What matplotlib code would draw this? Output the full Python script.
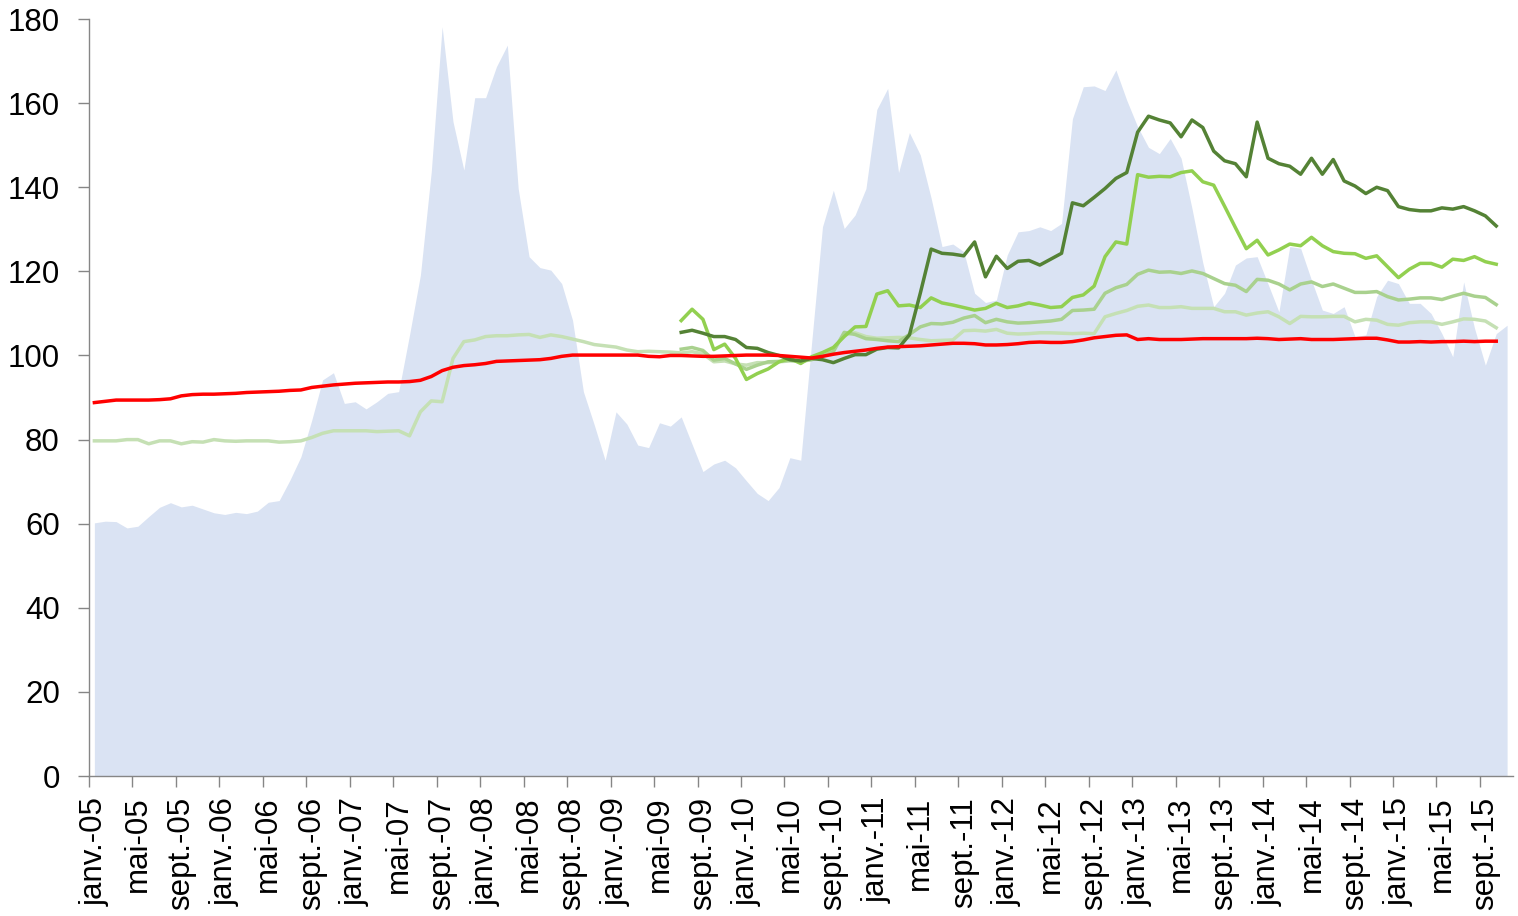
import numpy as np
import matplotlib
matplotlib.use("Agg")
import matplotlib.pyplot as plt

plt.rcParams['font.family'] = ['Liberation Sans', 'DejaVu Sans']

nan = np.nan

# monthly values, janv. 2005 -> nov. 2015
area_vals = [
    60.2, 60.6, 60.5, 59.0, 59.4, 61.7, 63.9, 65.0, 64.0, 64.4,
    63.5, 62.6, 62.2, 62.7, 62.4, 63.0, 65.1, 65.5, 70.4, 75.9,
    84.6, 94.2, 95.9, 88.6, 89.0, 87.3, 89.0, 91.0, 91.4, 104.9,
    119.1, 143.7, 178.2, 155.6, 144.1, 161.3, 161.3, 168.7, 173.8, 139.7,
    123.5, 120.9, 120.3, 117.1, 108.4, 91.4, 83.5, 75.1, 86.6, 83.7,
    78.7, 78.1, 84.0, 83.2, 85.4, 78.9, 72.4, 74.2, 75.1, 73.3,
    70.2, 67.2, 65.5, 68.6, 75.7, 75.1, 103.0, 130.6, 139.3, 130.2,
    133.4, 139.7, 158.5, 163.5, 143.5, 153.0, 147.7, 137.4, 125.9, 126.5,
    124.7, 114.8, 112.6, 113.2, 123.9, 129.4, 129.7, 130.6, 129.7, 131.4,
    156.3, 163.9, 164.1, 163.0, 167.9, 160.7, 154.4, 149.5, 148.0, 151.6,
    146.9, 135.0, 122.0, 111.6, 114.8, 121.5, 123.2, 123.5, 117.0, 110.4,
    125.9, 125.5, 117.9, 110.8, 110.0, 111.6, 104.5, 104.9, 114.0, 117.9,
    117.1, 112.4, 112.4, 110.0, 105.2, 99.7, 117.5, 106.5, 97.7, 105.2,
    107.2,
]

red_vals = [
    88.8, 89.1, 89.4, 89.4, 89.4, 89.4, 89.5, 89.7, 90.4, 90.7,
    90.8, 90.8, 90.9, 91.0, 91.2, 91.3, 91.4, 91.5, 91.7, 91.8,
    92.4, 92.7, 93.0, 93.2, 93.4, 93.5, 93.6, 93.7, 93.7, 93.8,
    94.1, 95.0, 96.4, 97.2, 97.6, 97.8, 98.1, 98.6, 98.7, 98.8,
    98.9, 99.0, 99.3, 99.8, 100.1, 100.1, 100.1, 100.1, 100.1, 100.1,
    100.1, 99.8, 99.7, 100.0, 100.0, 99.9, 99.8, 99.8, 99.9, 100.0,
    100.1, 100.1, 100.1, 100.0, 99.8, 99.6, 99.4, 99.8, 100.3, 100.7,
    101.0, 101.3, 101.7, 102.0, 102.1, 102.2, 102.3, 102.5, 102.7, 102.9,
    102.9, 102.8, 102.5, 102.5, 102.6, 102.8, 103.1, 103.2, 103.1, 103.1,
    103.3, 103.7, 104.2, 104.5, 104.8, 104.9, 103.8, 104.0, 103.8, 103.8,
    103.8, 103.9, 104.0, 104.0, 104.0, 104.0, 104.0, 104.1, 104.0, 103.8,
    103.9, 104.0, 103.8, 103.8, 103.8, 103.9, 104.0, 104.1, 104.1, 103.7,
    103.2, 103.2, 103.3, 103.2, 103.3, 103.3, 103.4, 103.3, 103.4, 103.4,
]

lightest_vals = [
    79.7, 79.7, 79.7, 80.0, 80.0, 79.0, 79.7, 79.7, 79.0, 79.5,
    79.4, 80.0, 79.7, 79.6, 79.7, 79.7, 79.7, 79.4, 79.5, 79.7,
    80.5, 81.5, 82.1, 82.1, 82.1, 82.1, 81.9, 82.0, 82.1, 80.9,
    86.6, 89.2, 89.0, 99.3, 103.3, 103.7, 104.5, 104.7, 104.7, 104.9,
    105.0, 104.3, 104.9, 104.5, 103.9, 103.3, 102.6, 102.3, 102.0, 101.3,
    100.9, 101.0, 100.9, 100.8, 100.6, 100.9, 100.4, 98.5, 98.7, 98.0,
    97.7, 98.3, 98.3, 98.5, 98.7, 98.6, 99.1, 100.1, 101.6, 104.9,
    105.4, 104.5, 104.1, 104.2, 104.3, 104.2, 103.8, 103.5, 103.6, 103.7,
    105.9, 106.0, 105.8, 106.2, 105.3, 105.1, 105.2, 105.4, 105.4, 105.3,
    105.2, 105.3, 105.2, 109.2, 110.0, 110.7, 111.7, 112.0, 111.4, 111.4,
    111.6, 111.2, 111.2, 111.2, 110.4, 110.4, 109.6, 110.1, 110.4, 109.2,
    107.6, 109.3, 109.2, 109.2, 109.3, 109.3, 108.0, 108.6, 108.4, 107.4,
    107.2, 107.8, 108.0, 108.0, 107.4, 108.0, 108.7, 108.6, 108.2, 106.6,
]

# the three other series start in juil. 2009
start_green = 54

midlight_vals = [
    101.5, 101.9, 101.2, 98.9, 99.3, 98.0, 96.7, 97.7, 98.5, 98.6,
    98.9, 98.6, 99.0, 99.8, 100.9, 105.5, 105.0, 104.0, 103.8, 103.5,
    103.3, 105.0, 106.8, 107.6, 107.5, 107.9, 108.9, 109.5, 107.8, 108.6,
    108.0, 107.7, 107.8, 108.0, 108.2, 108.6, 110.7, 110.8, 111.0, 114.8,
    116.1, 116.9, 119.3, 120.3, 119.8, 119.9, 119.5, 120.1, 119.5, 118.3,
    117.1, 116.7, 115.2, 118.1, 117.9, 117.0, 115.6, 117.0, 117.5, 116.4,
    117.0, 116.0, 115.0, 115.0, 115.2, 114.0, 113.2, 113.4, 113.7, 113.7,
    113.3, 114.1, 114.8, 114.1, 113.8, 112.1,
]

bright_vals = [
    108.3, 111.0, 108.6, 101.4, 102.7, 99.3, 94.3, 95.7, 96.8, 98.5,
    99.3, 98.1, 99.7, 100.7, 101.9, 104.5, 106.8, 106.9, 114.6, 115.4,
    111.8, 112.0, 111.4, 113.7, 112.5, 112.0, 111.4, 110.8, 111.2, 112.4,
    111.4, 111.8, 112.5, 112.0, 111.4, 111.6, 113.8, 114.4, 116.5, 123.5,
    127.0, 126.5, 143.0, 142.4, 142.6, 142.5, 143.5, 143.9, 141.3, 140.5,
    135.5, 130.4, 125.4, 127.4, 123.9, 125.1, 126.5, 126.1, 128.1, 126.1,
    124.7, 124.3, 124.2, 123.1, 123.7, 121.1, 118.5, 120.5, 121.9, 121.9,
    121.0, 122.9, 122.6, 123.5, 122.3, 121.7,
]

dark_vals = [
    105.5, 106.0, 105.3, 104.5, 104.5, 103.8, 101.9, 101.7, 100.7, 100.0,
    99.0, 98.7, 99.3, 99.0, 98.3, 99.3, 100.2, 100.2, 101.5, 101.9,
    101.8, 104.9, 114.8, 125.3, 124.3, 124.1, 123.7, 127.0, 118.7, 123.6,
    120.7, 122.4, 122.6, 121.5, 122.9, 124.3, 136.3, 135.6, 137.6, 139.7,
    142.1, 143.5, 153.1, 156.9, 156.0, 155.3, 152.0, 156.0, 154.2, 148.6,
    146.3, 145.6, 142.5, 155.5, 146.9, 145.6, 145.0, 143.1, 146.9, 143.1,
    146.6, 141.5, 140.3, 138.5, 140.0, 139.2, 135.4, 134.7, 134.4, 134.4,
    135.1, 134.8, 135.4, 134.4, 133.2, 130.8,
]

month_names = ['janv.', 'mai', 'sept.']
years = range(5, 16)
tick_labels = ['%s-%02d' % (m, y) for y in years for m in month_names]

fig = plt.figure(figsize=(15.18, 9.16), dpi=100)
ax = fig.add_axes([0.0586, 0.1528, 0.9378, 0.8264])

x_area = np.arange(len(area_vals))
x_line = np.arange(len(red_vals))
x_green = np.arange(start_green, start_green + len(dark_vals))

ax.fill_between(x_area, 0, area_vals, color='#dae3f3', linewidth=0, zorder=1)
ax.plot(x_line, lightest_vals, color='#c5e0b4', lw=2.5, zorder=2)
ax.plot(x_green, midlight_vals, color='#a9d18e', lw=2.5, zorder=3)
ax.plot(x_green, bright_vals, color='#92d050', lw=2.5, zorder=4)
ax.plot(x_green, dark_vals, color='#548235', lw=2.5, zorder=5)
ax.plot(x_line, red_vals, color='#ff0000', lw=2.5, zorder=6)

ax.set_xlim(-0.5, 130.5)
ax.set_ylim(0, 180)
ax.set_yticks(np.arange(0, 181, 20))

# tick marks between categories, labels centred on the month
ax.set_xticks(np.arange(-0.5, 128, 4))
ax.set_xticklabels([])
ax.set_xticks(np.arange(0, 129, 4), minor=True)
ax.set_xticklabels(tick_labels, minor=True, rotation=90, fontsize=22.5)
ax.tick_params(axis='x', which='major', length=8, color='#868686', width=1)
ax.tick_params(axis='x', which='minor', length=0, pad=15)
ax.tick_params(axis='y', length=8, color='#868686', width=1, labelsize=22.5, pad=13)

for side in ['top', 'right']:
    ax.spines[side].set_visible(False)
for side in ['left', 'bottom']:
    ax.spines[side].set_color('#868686')
    ax.spines[side].set_linewidth(1)

fig.savefig('out.png', dpi=100)
